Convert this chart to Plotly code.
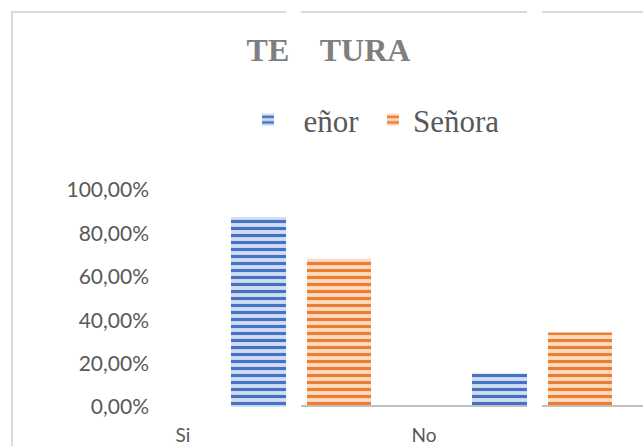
import plotly.graph_objects as go

categories = ["Si", "No"]
senor_values = [0.876, 0.154]
senora_values = [0.683, 0.343]
series_names = ["\u00a0\u00a0eñor", "Señora"]
title_text = "TE\u00a0\u00a0\u00a0\u2009TURA"
y_ticks = [0, 0.2, 0.4, 0.6, 0.8, 1.0]

W, H = 643, 446
L, R, T, B = 160, 0, 190, 39
pw = W - L - R
ph = H - T - B

def px_x(px):
    return (px - L) / pw

def px_y(py):
    return (H - B - py) / ph

unit = 241.0  # px per category
xr = [(L - 301) / unit, (W - R - 301) / unit]

fig = go.Figure()
fig.add_trace(go.Bar(
    x=categories, y=senor_values, name=series_names[0],
    offset=(231 - 301) / unit, width=64 / unit,
    marker=dict(color="#c9d6ef", line=dict(width=0),
                pattern=dict(shape="-", fgcolor="#4472c4", bgcolor="#d3ddf1",
                             size=7, solidity=0.45, fillmode="replace")),
))
fig.add_trace(go.Bar(
    x=categories, y=senora_values, name=series_names[1],
    offset=(307 - 301) / unit, width=64 / unit,
    marker=dict(color="#f8d3b8", line=dict(width=0),
                pattern=dict(shape="-", fgcolor="#ed7d31", bgcolor="#fadbc4",
                             size=7, solidity=0.45, fillmode="replace")),
))

shapes = [
    # chart border (top & left visible)
    dict(type="rect", xref="paper", yref="paper",
         x0=px_x(12), x1=px_x(700), y0=px_y(12), y1=px_y(500),
         line=dict(color="#d9d9d9", width=2), fillcolor="rgba(0,0,0,0)", layer="below"),
    # baseline
    dict(type="line", xref="paper", yref="y",
         x0=px_x(301), x1=px_x(700), y0=0, y1=0,
         line=dict(color="#bfbfbf", width=4), layer="above"),
    # white strips
    dict(type="rect", xref="paper", yref="paper",
         x0=px_x(286), x1=px_x(301), y0=px_y(460), y1=px_y(-10),
         line=dict(width=0), fillcolor="white", layer="above"),
    dict(type="rect", xref="paper", yref="paper",
         x0=px_x(527), x1=px_x(542), y0=px_y(460), y1=px_y(-10),
         line=dict(width=0), fillcolor="white", layer="above"),
]

fig.update_layout(
    width=W, height=H,
    margin=dict(l=L, r=R, t=T, b=B, pad=0),
    paper_bgcolor="white", plot_bgcolor="white",
    barmode="overlay",
    separators=",.",
    title=dict(text=title_text, x=328.5 / W, xanchor="center",
               y=1 - 50 / H, yanchor="middle", xref="container", yref="container",
               font=dict(family="Liberation Serif", size=32, color="#7f7f7f", weight="bold")),
    legend=dict(orientation="h", xref="container", yref="container",
                x=248 / W, xanchor="left", y=1 - 120 / H, yanchor="middle",
                font=dict(family="Liberation Serif", size=31, color="#595959"),
                entrywidth=80, entrywidthmode="pixels",
                bgcolor="rgba(0,0,0,0)", borderwidth=0),
    xaxis=dict(type="category", range=xr, showgrid=False, zeroline=False,
               showline=False, ticks="", ticklabelshift=-118, ticklabelstandoff=15,
               tickfont=dict(family="Lato", size=19, color="#595959")),
    yaxis=dict(range=[0, 1.0], tickvals=y_ticks, tickformat=".2%",
               showgrid=False, zeroline=False, showline=False, ticks="",
               ticklabelstandoff=10,
               tickfont=dict(family="Lato", size=21, color="#595959")),
    shapes=shapes,
    showlegend=True,
)

fig.write_html("out.html", config={"displayModeBar": False},
               post_script="document.body.style.margin='0';document.body.style.overflow='hidden';")
